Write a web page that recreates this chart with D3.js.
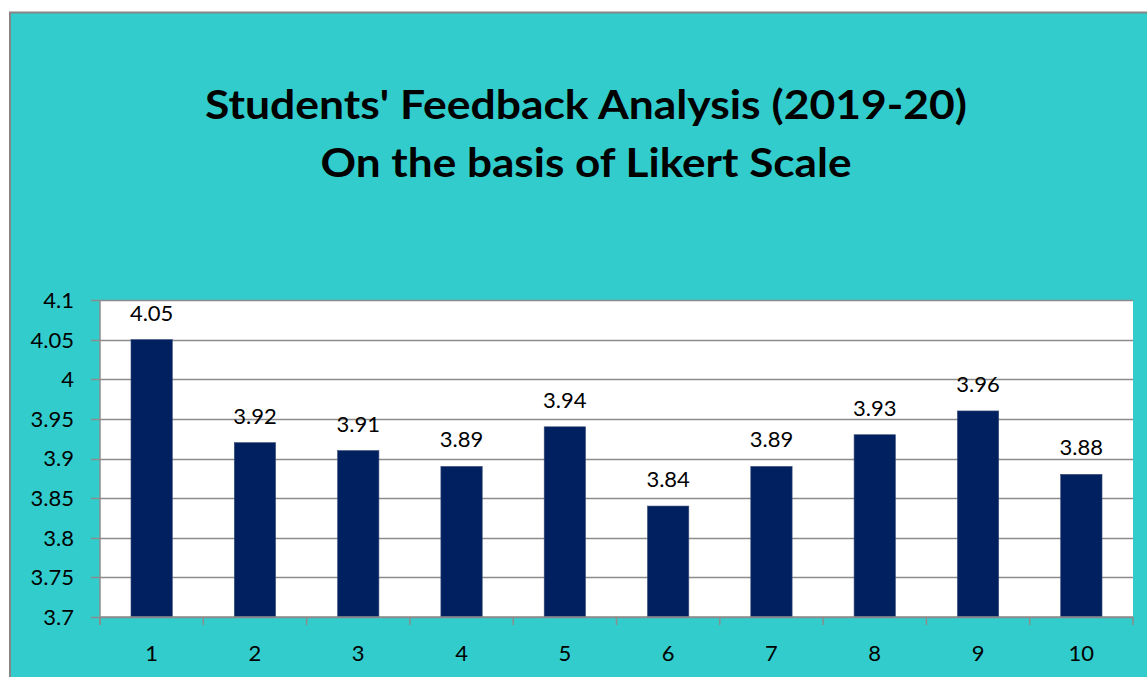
<!DOCTYPE html>
<html>
<head>
<meta charset="utf-8">
<script src="https://cdn.jsdelivr.net/npm/d3@7"></script>
<style>
	body { margin: 0; background: #fff; }
	text { font-family: Lato, "Open Sans", sans-serif; fill: #000; }
	.title { font-weight: bold; font-size: 40px; }
	.lbl { font-size: 22px; }
</style>
</head>
<body>
<svg id="chart" width="1147" height="677"></svg>
<script>
const CATEGORIES = ['1', '2', '3', '4', '5', '6', '7', '8', '9', '10'];
const SCORES = [4.05, 3.92, 3.91, 3.89, 3.94, 3.84, 3.89, 3.93, 3.96, 3.88];
const Y_TICKS = [3.7, 3.75, 3.8, 3.85, 3.9, 3.95, 4, 4.05, 4.1];
const TITLE_LINES = ["Students' Feedback Analysis (2019-20)", "On the basis of Likert Scale"];

const svg = d3.select('#chart');

// chart area background with grey border on top/left
svg.append('rect')
	.attr('x', 10).attr('y', 12.5)
	.attr('width', 1147).attr('height', 677)
	.attr('fill', '#33cccc')
	.attr('stroke', '#868686')
	.attr('stroke-width', 2);

// title
svg.append('text').classed('title', true)
	.attr('x', 586).attr('y', 119)
	.attr('text-anchor', 'middle')
	.attr('textLength', 762)
	.attr('lengthAdjust', 'spacingAndGlyphs')
	.text(TITLE_LINES[0]);
svg.append('text').classed('title', true)
	.attr('x', 586).attr('y', 177)
	.attr('text-anchor', 'middle')
	.attr('textLength', 531)
	.attr('lengthAdjust', 'spacingAndGlyphs')
	.text(TITLE_LINES[1]);

const plot = { left: 100, top: 300, right: 1133, bottom: 617 };

const x = d3.scaleBand()
	.domain(CATEGORIES)
	.range([plot.left, plot.right])
	.paddingInner(0.6)
	.paddingOuter(0.3);

const y = d3.scaleLinear()
	.domain([3.7, 4.1])
	.range([plot.bottom, plot.top]);

// plot background
svg.append('rect')
	.attr('x', plot.left).attr('y', plot.top)
	.attr('width', plot.right - plot.left)
	.attr('height', plot.bottom - plot.top)
	.attr('fill', '#fff');

// gridlines
svg.append('g')
	.selectAll('line')
	.data(Y_TICKS)
	.enter().append('line')
	.attr('x1', plot.left - 9).attr('x2', plot.right)
	.attr('y1', d => Math.round(y(d)) + 0.5)
	.attr('y2', d => Math.round(y(d)) + 0.5)
	.attr('stroke', '#8c8c8c')
	.attr('stroke-width', 1.5);

// y labels
svg.append('g')
	.selectAll('text')
	.data(Y_TICKS)
	.enter().append('text')
	.classed('lbl', true)
	.attr('x', 74)
	.attr('y', d => y(d))
	.attr('dy', '0.36em')
	.attr('text-anchor', 'end')
	.text(d => d3.format('')(+d.toFixed(2)));

// bars
svg.append('g')
	.selectAll('rect')
	.data(SCORES)
	.enter().append('rect')
	.attr('x', (d, i) => x(CATEGORIES[i]))
	.attr('y', d => y(d))
	.attr('width', x.bandwidth())
	.attr('height', d => plot.bottom - y(d))
	.attr('fill', '#002060')
	.attr('stroke', '#3a4d78')
	.attr('stroke-width', 0.6);

// data labels
svg.append('g')
	.selectAll('text')
	.data(SCORES)
	.enter().append('text')
	.classed('lbl', true)
	.attr('x', (d, i) => x(CATEGORIES[i]) + x.bandwidth() / 2)
	.attr('y', d => y(d) - 19)
	.attr('text-anchor', 'middle')
	.text(d => d.toFixed(2));

// axes lines
const step = (plot.right - plot.left) / CATEGORIES.length;
const xTicks = d3.range(CATEGORIES.length + 1).map(i => plot.left + i * step);
svg.append('line')
	.attr('x1', plot.left).attr('x2', plot.left)
	.attr('y1', plot.top).attr('y2', plot.bottom + 8)
	.attr('stroke', '#8c8c8c').attr('stroke-width', 1.5);
svg.append('line')
	.attr('x1', plot.left).attr('x2', plot.right)
	.attr('y1', plot.bottom).attr('y2', plot.bottom)
	.attr('stroke', '#8c8c8c').attr('stroke-width', 1.5);
svg.append('g')
	.selectAll('line')
	.data(xTicks)
	.enter().append('line')
	.attr('x1', d => d).attr('x2', d => d)
	.attr('y1', plot.bottom).attr('y2', plot.bottom + 8)
	.attr('stroke', '#8c8c8c').attr('stroke-width', 1.5);

// x labels
svg.append('g')
	.selectAll('text')
	.data(CATEGORIES)
	.enter().append('text')
	.classed('lbl', true)
	.attr('x', d => x(d) + x.bandwidth() / 2)
	.attr('y', 661)
	.attr('text-anchor', 'middle')
	.text(d => d);
</script>
</body>
</html>
